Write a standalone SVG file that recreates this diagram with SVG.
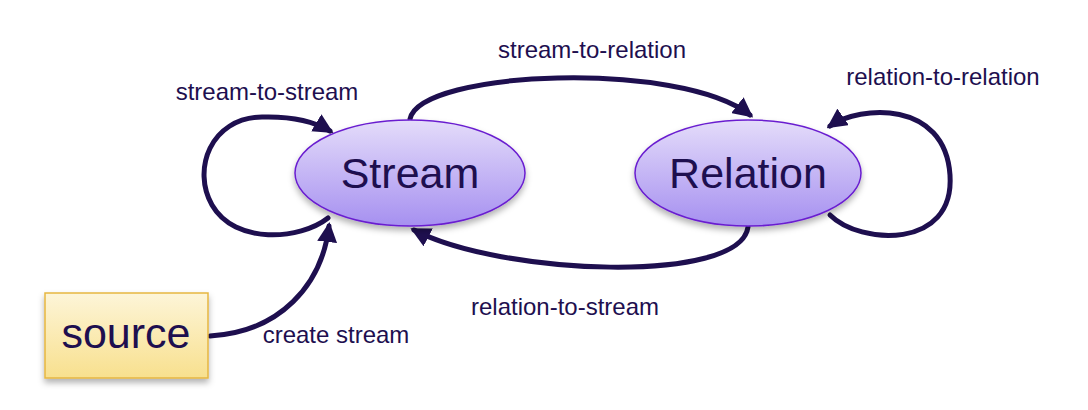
<svg xmlns="http://www.w3.org/2000/svg" width="1088" height="410" viewBox="0 0 1088 410">
<style>
text{font-family:"Liberation Sans",Arial,sans-serif;fill:#1e0f4f}
.lbl{font-size:24px;text-anchor:middle}
.node{font-size:43px;text-anchor:middle}
.edge{fill:none;stroke:#1e0f4f;stroke-width:5;stroke-linecap:round}
.ell{fill:url(#pg);stroke:#6a1fd0;stroke-width:1.5}
</style>
<defs>
<linearGradient id="pg" x1="0" y1="0" x2="0" y2="1"><stop offset="0" stop-color="#e4dcfa"/><stop offset="1" stop-color="#a690f0"/></linearGradient>
<linearGradient id="yg" x1="0" y1="0" x2="0" y2="1"><stop offset="0" stop-color="#fdf5d8"/><stop offset="1" stop-color="#f8e08e"/></linearGradient>
<filter id="sh" x="-20%" y="-20%" width="140%" height="150%"><feDropShadow dx="0" dy="4" stdDeviation="3" flood-color="#000" flood-opacity="0.3"/></filter>
<marker id="ah" viewBox="0 0 10 10" refX="8" refY="5" markerWidth="4" markerHeight="4" orient="auto" markerUnits="strokeWidth"><path d="M0,0 L10,5 L0,10 z" fill="#1e0f4f"/></marker>
</defs>
<g id="connectors">
<path class="edge" marker-end="url(#ah)" d="M328,218 C300,240 235,245 212,205 C192,170 210,118 262,117 C295,116 315,122 330,131"/>
<path class="edge" marker-end="url(#ah)" d="M210,336 C280,332 322,285 329,226"/>
<path class="edge" marker-end="url(#ah)" d="M410,119 C420,70 680,60 750,115"/>
<path class="edge" marker-end="url(#ah)" d="M748,227 C740,285 500,275 414,230"/>
<path class="edge" marker-end="url(#ah)" d="M830,215 C860,245 955,250 950,175 C945,100 860,105 830,126"/>
</g>
<g id="labels">
<text class="lbl" x="267" y="100">stream-to-stream</text>
<text class="lbl" x="592" y="58">stream-to-relation</text>
<text class="lbl" x="943" y="85">relation-to-relation</text>
<text class="lbl" x="565" y="315">relation-to-stream</text>
<text class="lbl" x="336" y="343">create stream</text>
</g>
<g id="stream"><ellipse class="ell" filter="url(#sh)" cx="410" cy="173" rx="115" ry="53"/><text class="node" x="410" y="188">Stream</text></g>
<g id="relation"><ellipse class="ell" filter="url(#sh)" cx="748" cy="173" rx="113" ry="53"/><text class="node" x="748" y="188">Relation</text></g>
<g id="source"><rect x="45" y="293" width="163" height="85" fill="url(#yg)" stroke="#e6b640" stroke-width="1.5" filter="url(#sh)"/><text class="node" x="126" y="348">source</text></g>
</svg>
